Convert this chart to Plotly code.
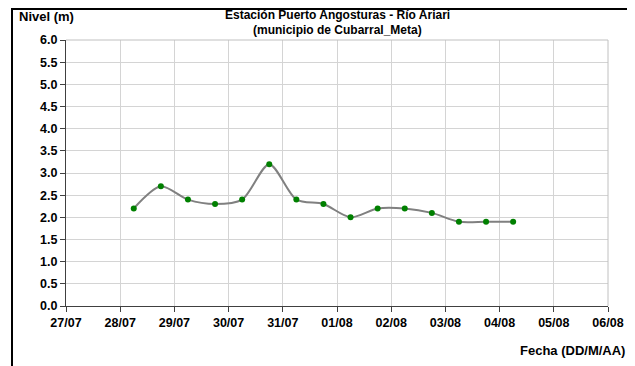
import pandas as pd
import plotly.graph_objects as go

fechas = ['2023-07-28 06:00', '2023-07-28 18:00', '2023-07-29 06:00', '2023-07-29 18:00',
          '2023-07-30 06:00', '2023-07-30 18:00', '2023-07-31 06:00', '2023-07-31 18:00',
          '2023-08-01 06:00', '2023-08-01 18:00', '2023-08-02 06:00', '2023-08-02 18:00',
          '2023-08-03 06:00', '2023-08-03 18:00', '2023-08-04 06:00']
nivel = [2.2, 2.7, 2.4, 2.3, 2.4, 3.2, 2.4, 2.3, 2.0, 2.2, 2.2, 2.1, 1.9, 1.9, 1.9]
tick_fechas = pd.date_range('2023-07-27', '2023-08-06', freq='D')
tick_labels = [d.strftime('%d/%m') for d in tick_fechas]
tick_nivel = [i * 0.5 for i in range(13)]

FONT = 'Liberation Sans, Arial, sans-serif'
# the page body has an 8px margin, so the figure is sized/offset for it
W, H = 627, 358
L, R, T, B = 58, 27, 32, 60
PW, PH = W - L - R, H - T - B


def px_x(x):
    return (x - L) / PW


def px_y(y):
    return 1 - (y - T) / PH


fig = go.Figure()
fig = fig.add_trace(
            go.Scatter(
                x=pd.to_datetime(fechas),
                y=nivel,
                mode='lines+markers',
                line=dict(color='#808080', width=2, shape='spline', smoothing=0.8),
                marker=dict(color='#008000', size=6),
                showlegend=False
                )
                    )
fig = fig.update_xaxes(title=None,
                        range=[tick_fechas[0], tick_fechas[-1]],
                        tickvals=tick_fechas,
                        ticktext=['<b>%s</b>' % t for t in tick_labels],
                        tickfont=dict(size=12.5, family=FONT, color='black'),
                        showgrid=True, gridcolor='#d4d4d4', gridwidth=1,
                        showline=True, linecolor='#404040', linewidth=1,
                        ticks='outside', ticklen=5, tickcolor='#404040',
                        zeroline=False)
fig = fig.update_yaxes(title=None,
                        range=[0, 6],
                        tickvals=tick_nivel,
                        ticktext=['<b>%.1f</b>' % v for v in tick_nivel],
                        tickfont=dict(size=12.5, family=FONT, color='black'),
                        showgrid=True, gridcolor='#d4d4d4', gridwidth=1,
                        showline=True, linecolor='#404040', linewidth=1,
                        ticks='outside', ticklen=5, tickcolor='#404040',
                        zeroline=False)

lbl = dict(size=13, family=FONT, color='black')
tit = dict(size=12, family=FONT, color='black')
fig = fig.update_layout(
                width=W, height=H,
                paper_bgcolor='white',
                plot_bgcolor='white',
                margin=dict(l=L, r=R, t=T, b=B),
                shapes=[
                    dict(type='line', xref='paper', yref='paper', x0=1, x1=1, y0=0, y1=1,
                         line=dict(color='#c0c0c0', width=1)),
                    dict(type='line', xref='paper', yref='paper', x0=0, x1=1, y0=1, y1=1,
                         line=dict(color='#c0c0c0', width=1)),
                    # marco negro exterior
                    dict(type='rect', xref='paper', yref='paper',
                         x0=px_x(4), x1=px_x(W + 10), y0=px_y(H + 10), y1=px_y(1),
                         line=dict(color='black', width=2)),
                    ],
                annotations=[
                    dict(text='<b>Estación Puerto Angosturas - Río Ariari</b>', xref='paper', yref='paper',
                         x=px_x(329), y=px_y(7.3), xanchor='center', yanchor='middle',
                         showarrow=False, font=tit),
                    dict(text='<b>(municipio de Cubarral_Meta)</b>', xref='paper', yref='paper',
                         x=px_x(329), y=px_y(22.3), xanchor='center', yanchor='middle',
                         showarrow=False, font=tit),
                    dict(text='<b>Nivel (m)</b>', xref='paper', yref='paper',
                         x=px_x(9), y=px_y(9), xanchor='left', yanchor='middle',
                         showarrow=False, font=lbl),
                    dict(text='<b>Fecha (DD/M/AA)</b>', xref='paper', yref='paper',
                         x=px_x(619), y=px_y(342), xanchor='right', yanchor='middle',
                         showarrow=False, font=lbl),
                    ]
                )

fig.write_html("out.html")
